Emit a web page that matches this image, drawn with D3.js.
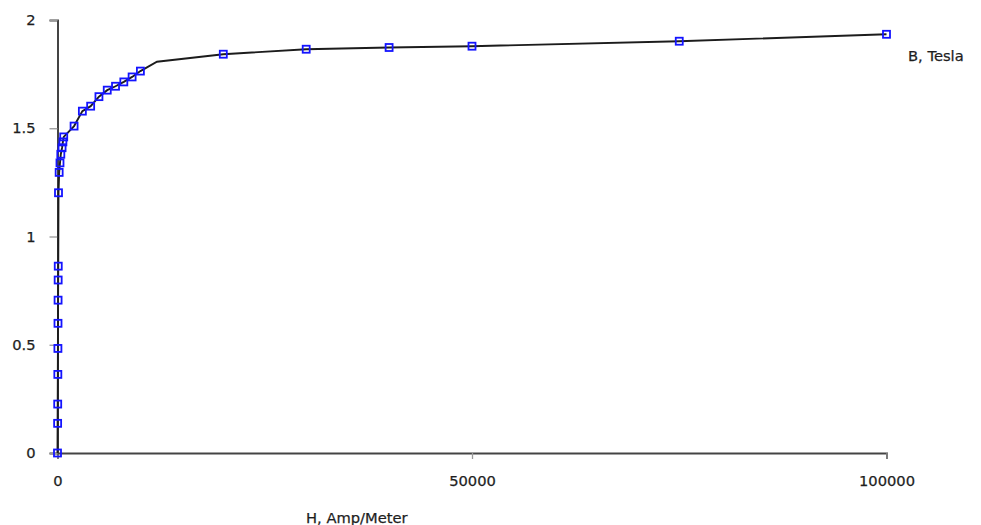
<!DOCTYPE html>
<html>
<head>
<meta charset="utf-8">
<script src="https://cdn.jsdelivr.net/npm/d3@7"></script>
<style>
  html, body { margin: 0; padding: 0; background: #ffffff; }
  svg { display: block; }
  text { font-family: "DejaVu Sans", Verdana, sans-serif; fill: #1e1e1e; }
</style>
</head>
<body>
<svg id="chart" width="981" height="525"></svg>
<script>
// Measured points (markers)
const hValues = [0, 15, 25, 40, 50, 60, 70, 80, 90, 120, 200, 300, 400, 550, 650, 750,
  2000, 3000, 4000, 5000, 6000, 7000, 8000, 9000, 10000, 20000, 30000, 40000, 50000, 75000, 100000];
const bValues = [0, 0.137, 0.226, 0.363, 0.483, 0.599, 0.706, 0.799, 0.863, 1.202, 1.296, 1.340, 1.380, 1.410, 1.437, 1.460,
  1.510, 1.579, 1.602, 1.646, 1.676, 1.694, 1.714, 1.737, 1.764, 1.842, 1.865, 1.873, 1.879, 1.902, 1.934];
// Curve drawn through the points (has one extra bend point without a marker)
const curveH = [0, 15, 25, 40, 50, 60, 70, 80, 90, 120, 200, 300, 400, 550, 650, 750,
  2000, 3000, 4000, 5000, 6000, 7000, 8000, 9000, 10000, 12000, 20000, 30000, 40000, 50000, 75000, 100000];
const curveB = [0, 0.137, 0.226, 0.363, 0.483, 0.599, 0.706, 0.799, 0.863, 1.202, 1.296, 1.340, 1.380, 1.410, 1.437, 1.460,
  1.510, 1.579, 1.602, 1.646, 1.676, 1.694, 1.714, 1.737, 1.764, 1.807, 1.842, 1.865, 1.873, 1.879, 1.902, 1.934];
const xTicks = [0, 50000, 100000];
const yTicks = [0, 0.5, 1, 1.5, 2];
const xTitle = "H, Amp/Meter";
const seriesName = "B, Tesla";

const svg = d3.select("#chart");
const x = d3.scaleLinear().domain([0, 100000]).range([57.5, 886.5]);
const y = d3.scaleLinear().domain([0, 2]).range([453, 20]);
const fs = 14.7;

// X axis
const xAxis = svg.append("g").attr("transform", `translate(0,${y(0)})`)
  .call(d3.axisBottom(x).tickValues(xTicks).tickFormat(d3.format("d")).tickSize(6).tickPadding(17));
// Y axis
const yAxis = svg.append("g").attr("transform", `translate(${x(0)},0)`)
  .call(d3.axisLeft(y).tickValues(yTicks).tickFormat(d => String(d)).tickSize(8).tickPadding(14));

[xAxis, yAxis].forEach(g => {
  g.select(".domain").attr("stroke", "#444").attr("stroke-width", 2);
  g.selectAll(".tick line").attr("stroke", "#999").attr("stroke-width", 1.3);
  g.selectAll(".tick text").attr("font-size", fs).attr("fill", "#1e1e1e")
    .attr("stroke", "#1e1e1e").attr("stroke-width", 0.25)
    .style("font-family", "'DejaVu Sans', Verdana, sans-serif");
});

// Curve
const line = d3.line().x(d => x(d[0])).y(d => y(d[1])).curve(d3.curveLinear);
svg.append("path")
  .datum(curveH.map((h, i) => [h, curveB[i]]))
  .attr("d", line)
  .attr("fill", "none")
  .attr("stroke", "#1c1c1c")
  .attr("stroke-width", 1.9);

// Markers
const pts = hValues.map((h, i) => [h, bValues[i]]);
svg.append("g").selectAll("rect").data(pts).join("rect")
  .attr("x", d => x(d[0]) - 3.5)
  .attr("y", d => y(d[1]) - 3.5)
  .attr("width", 7).attr("height", 7)
  .attr("fill", "none")
  .attr("stroke", "#1414ff")
  .attr("stroke-width", 1.8);

// Series label
svg.append("text").attr("x", 908).attr("y", 61).attr("font-size", fs)
  .attr("stroke", "#1e1e1e").attr("stroke-width", 0.25).text(seriesName);
// X title
svg.append("text").attr("x", 306).attr("y", 523).attr("font-size", fs)
  .attr("stroke", "#1e1e1e").attr("stroke-width", 0.25).text(xTitle);
</script>
</body>
</html>
